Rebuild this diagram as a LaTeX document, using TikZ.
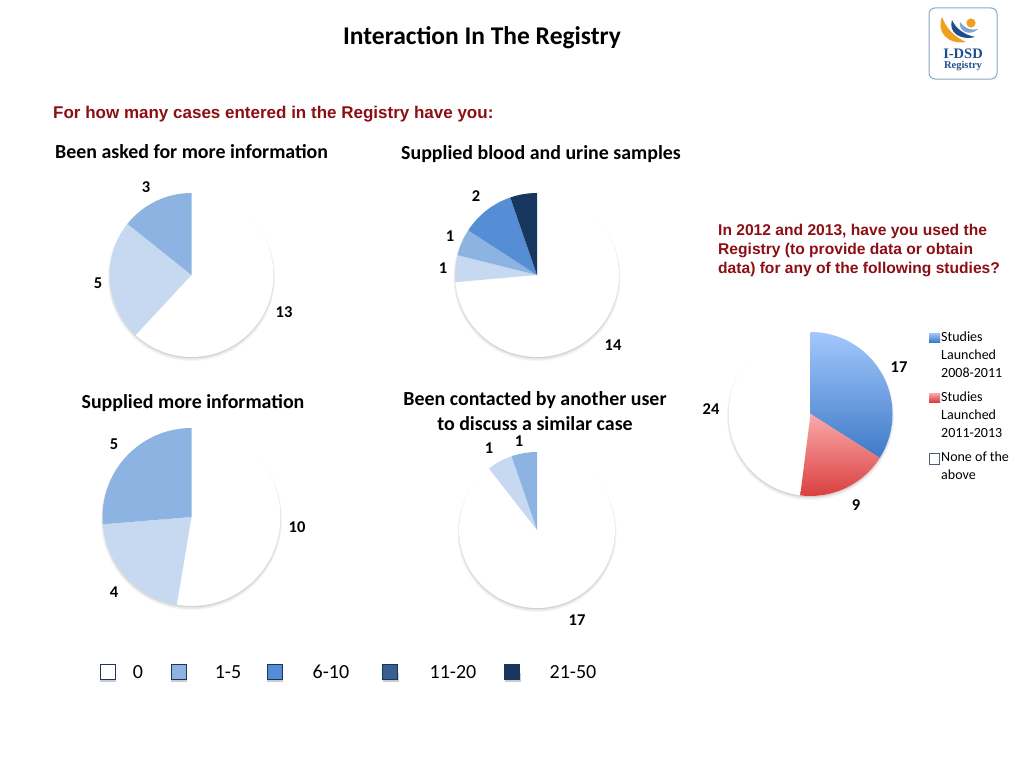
\documentclass[tikz,border=0pt]{standalone}
\usepackage{fontspec}
\setmainfont{Carlito}
\newfontfamily\redfont{Liberation Sans}
\newfontfamily\logofont{Liberation Serif}
\definecolor{sliceA}{HTML}{C6D9F1}
\definecolor{sliceB}{HTML}{8DB3E2}
\definecolor{sliceC}{HTML}{558ED5}
\definecolor{sliceD}{HTML}{376092}
\definecolor{sliceE}{HTML}{17375E}
\definecolor{legendedge}{HTML}{1F3558}
\definecolor{heading}{HTML}{8B0F14}
\definecolor{logoblue}{HTML}{1F4E8C}
\definecolor{logolight}{HTML}{7FA6D6}
\definecolor{logoorange}{HTML}{EFA11E}
\definecolor{logoedge}{HTML}{86AAC4}
\definecolor{bluetop}{HTML}{A3C7FC}
\definecolor{bluebot}{HTML}{3E7AC8}
\definecolor{redtop}{HTML}{FAAAAA}
\definecolor{redbot}{HTML}{DA3E3E}
\newcommand{\softdisc}[3]{%
  \fill[black!4] (#1,#2+2.5) circle (#3+1.5);
  \fill[black!9] (#1,#2+2) circle (#3+.7);
  \fill[black!18] (#1,#2+1.2) circle (#3);
  \fill[white] (#1,#2) circle (#3);}
% angles are given in the usual sense; the y axis points down, so they are negated here
\newcommand{\wedgepath}[5]{(#1,#2) -- ++({-(#4)}:#3) arc[start angle={-(#4)},end angle={-(#5)},radius=#3] -- cycle}
\newcommand{\wedgeat}[6]{\fill[#6] \wedgepath{#1}{#2}{#3}{#4}{#5};}
\tikzset{
  x=1pt,y=-1pt,
  title/.style={font=\bfseries\fontsize{25.5}{30}\selectfont,text=black,inner sep=0},
  sub/.style={font=\bfseries\fontsize{19.9}{24.4}\selectfont,text=black,inner sep=0,align=center},
  num/.style={font=\bfseries\fontsize{16.5}{19}\selectfont,text=black,inner sep=0},
  redtext/.style={font=\redfont\bfseries\fontsize{15.6}{19.2}\selectfont,text=heading,inner sep=0,align=left},
  keytext/.style={font=\fontsize{14}{17.6}\selectfont,text=black,inner sep=0,align=left,anchor=north west},
  bottomtext/.style={font=\fontsize{20}{24}\selectfont,text=black,inner sep=0},
  bluefade/.style={top color=bluetop,bottom color=bluebot},
  redfade/.style={top color=redtop,bottom color=redbot},
}
\begin{document}
\begin{tikzpicture}
\useasboundingbox (0,0) rectangle (1024,768);
\fill[white] (0,0) rectangle (1024,768);

\node[title] (maintitle) at (482,37.5) {Interaction In The Registry};

% logo
\draw[logoedge,line width=1pt,rounded corners=6pt,fill=white] (929,8) rectangle (997,79);
\fill[logoorange] (942,17) .. controls (936,31) and (947,45) .. (966,42) .. controls (955,37) and (947,30) .. (942,17) -- cycle;
\fill[logoblue] (952,20) .. controls (948,32) and (960,41) .. (975,37) .. controls (965,35) and (956,29) .. (952,20) -- cycle;
\fill[logolight] (960,22) .. controls (958,31) and (970,37) .. (978,29) .. controls (971,31) and (964,28) .. (960,22) -- cycle;
\fill[logoorange] (971,23) circle (4.6);
\node[font=\logofont\bfseries\fontsize{14.5}{16}\selectfont,text=logoblue,inner sep=0] (logoa) at (963,54) {I-DSD};
\node[font=\logofont\bfseries\fontsize{10.5}{12}\selectfont,text=logoblue,inner sep=0] (logob) at (963,66.5) {Registry};

\node[redtext,anchor=west,font=\redfont\bfseries\fontsize{17}{20}\selectfont] (question) at (53,114) {For how many cases entered in the Registry have you:};
\node[sub,anchor=west] (askedT) at (55,152) {Been asked for more information};
\node[sub,anchor=west] (suppliedT) at (401,154) {Supplied blood and urine samples};
\node[sub] (moreT) at (193,403) {Supplied more information};
\node[sub] (contactT) at (535,411) {Been contacted by another user\\to discuss a similar case};
\node[redtext,anchor=north west] (studyq) at (718,224) {In 2012 and 2013, have you used the\\Registry (to provide data or obtain\\data) for any of the following studies?};

% pie 1
\softdisc{191.5}{275}{82}
\wedgeat{191.5}{275}{82}{-132.9}{-218.6}{sliceA}
\wedgeat{191.5}{275}{82}{-218.6}{-270}{sliceB}
\node[num] (pa3) at (146,187) {3};
\node[num] (pa5) at (98,283) {5};
\node[num] (pa13) at (284,312) {13};

% pie 2
\softdisc{537}{275}{82}
\wedgeat{537}{275}{82}{-175}{-194}{sliceA}
\wedgeat{537}{275}{82}{-194}{-213}{sliceB}
\wedgeat{537}{275}{82}{-213}{-251}{sliceC}
\wedgeat{537}{275}{82}{-251}{-270}{sliceE}
\node[num] (pb2) at (476,196) {2};
\node[num] (pb1a) at (450,236) {1};
\node[num] (pb1b) at (443,268) {1};
\node[num] (pb14) at (613,345) {14};

% pie 3
\softdisc{191.5}{517}{89}
\wedgeat{191.5}{517}{89}{-99.5}{-175.3}{sliceA}
\wedgeat{191.5}{517}{89}{-175.3}{-270}{sliceB}
\node[num] (pc5) at (114,444) {5};
\node[num] (pc10) at (297,527) {10};
\node[num] (pc4) at (114,592) {4};

% pie 4
\softdisc{537}{530}{78}
\wedgeat{537}{530}{78}{-232}{-251}{sliceA}
\wedgeat{537}{530}{78}{-251}{-270}{sliceB}
\node[num] (pd1a) at (519,441) {1};
\node[num] (pd1b) at (489,448) {1};
\node[num] (pd17) at (577,620) {17};

% pie 5
\softdisc{810.5}{414}{82}
\begin{scope}
  \clip \wedgepath{810.5}{414}{82}{90}{-32.4};
  \shade[bluefade] (800,332) rectangle (900,458);
\end{scope}
\begin{scope}
  \clip \wedgepath{810.5}{414}{82}{-32.4}{-97.2};
  \shade[redfade] (790,414) rectangle (890,497);
\end{scope}
\node[num] (pe17) at (899,367) {17};
\node[num] (pe24) at (711,409) {24};
\node[num] (pe9) at (856,505) {9};

% right legend
\shade[bluefade] (929,333) rectangle (940,342);
\node[keytext] (keya) at (941,332) {Studies\\Launched\\2008-2011};
\shade[redfade] (929,393) rectangle (940,402);
\node[keytext] (keyb) at (941,392) {Studies\\Launched\\2011-2013};
\draw[legendedge!80,line width=.9pt,fill=white] (929,453) rectangle (939,464);
\node[keytext] (keyc) at (941,452) {None of the\\above};

% bottom legend
\foreach \bx/\bc in {107.5/white,178.5/sliceB,274.5/sliceC,390/sliceD,512/sliceE}{
  \fill[black!20] (\bx-7.5,673) rectangle (\bx+8.5,682);
  \draw[legendedge,line width=1pt,fill=\bc] (\bx-7.5,664) rectangle (\bx+7.5,679);
}
\node[bottomtext] (lega) at (138,672) {0};
\node[bottomtext] (legb) at (228,672) {1-5};
\node[bottomtext] (legc) at (331,672) {6-10};
\node[bottomtext] (legd) at (453,672) {11-20};
\node[bottomtext] (lege) at (573,672) {21-50};
\end{tikzpicture}
\end{document}
